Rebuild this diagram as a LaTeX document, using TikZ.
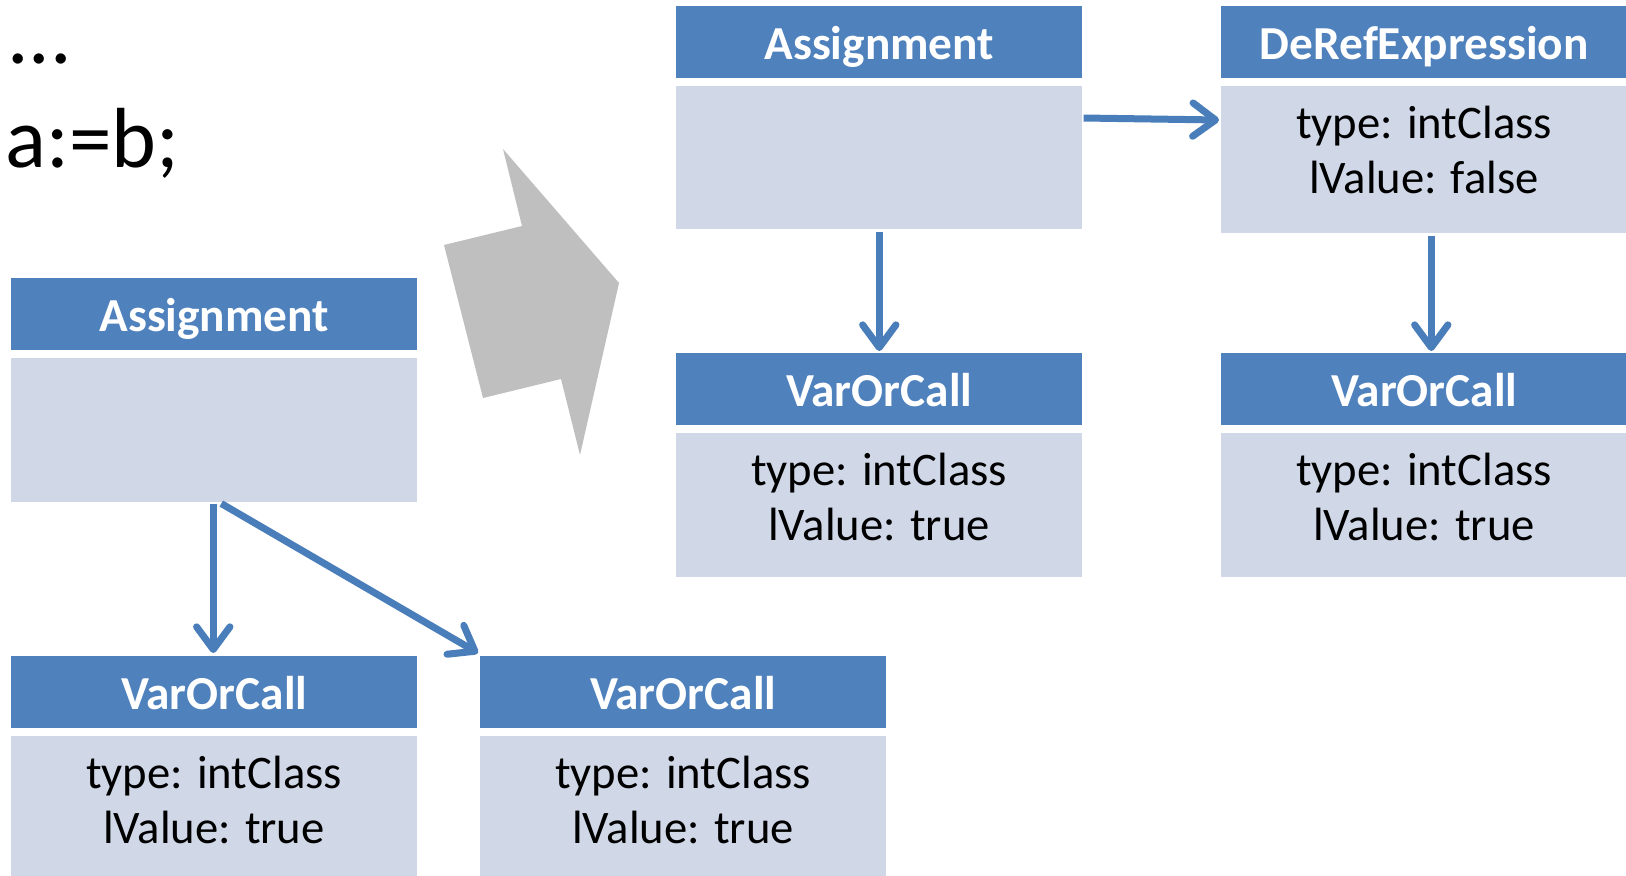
\documentclass[tikz,border=0pt]{standalone}
\usepackage{fontspec}
\setmainfont{Carlito}
\usetikzlibrary{arrows.meta}
\definecolor{hdrblue}{HTML}{4F81BD}
\definecolor{bodyblue}{HTML}{D0D8E8}
\definecolor{linkblue}{HTML}{4A7EBB}
\definecolor{shapegray}{HTML}{BFBFBF}
\begin{document}
\begin{tikzpicture}[x=0.75pt,y=-0.75pt,
  hdr/.style={fill=hdrblue, draw=none, anchor=north west, minimum width=304.5pt,
    minimum height=54pt, inner sep=0pt, text=white,
    font=\fontsize{35.5}{42}\selectfont\bfseries, text height=26pt, text depth=0pt},
  bodybox/.style={fill=bodyblue, draw=none, anchor=north west, minimum width=304.5pt,
    minimum height=108pt, inner sep=0pt},
  bodytext/.style={anchor=base, inner sep=0pt, font=\fontsize{35}{42}\selectfont},
  codetext/.style={anchor=base west, inner sep=0pt, font=\fontsize{64}{76}\selectfont},
  conn/.style={draw=linkblue, line width=5.25pt,
    -{Straight Barb[length=17pt,width=25pt,line cap=round,line join=round]}}
]
\clip (0,0) rectangle (1626,875);
\fill[white] (0,0) rectangle (1626,875);

% code text
\node[codetext] (dots) at (7,63) {...};
\node[codetext] (code) at (5,167) {a:=b;};

% gray transformation arrow
\fill[shapegray] (503,149) -- (619,283) -- (580,455) -- (561,379) -- (483,398)
  -- (444,245) -- (522,226) -- cycle;

% left tree
\node[hdr] (a1h) at (11,278) {Assignment};
\node[bodybox] (a1b) at (11,358) {};

\node[hdr] (v1h) at (11,656) {VarOrCall};
\node[bodybox, minimum height=112.5pt] (v1b) at (11,736) {};
\node[bodytext] (v1t1) at (214,788) {type: intClass};
\node[bodytext] (v1t2) at (214,843) {lValue: true};

\node[hdr] (v2h) at (480,656) {VarOrCall};
\node[bodybox, minimum height=112.5pt] (v2b) at (480,736) {};
\node[bodytext] (v2t1) at (683,788) {type: intClass};
\node[bodytext] (v2t2) at (683,843) {lValue: true};

% right tree
\node[hdr] (a2h) at (676,6) {Assignment};
\node[bodybox, minimum height=107.25pt] (a2b) at (676,86) {};

\node[hdr] (dh) at (1221,6) {DeRefExpression};
\node[bodybox, minimum height=110.25pt] (db) at (1221,86) {};
\node[bodytext] (dt1) at (1424,138) {type: intClass};
\node[bodytext] (dt2) at (1424,193) {lValue: false};

\node[hdr] (v3h) at (676,353) {VarOrCall};
\node[bodybox] (v3b) at (676,433) {};
\node[bodytext] (v3t1) at (879,485) {type: intClass};
\node[bodytext] (v3t2) at (879,540) {lValue: true};

\node[hdr] (v4h) at (1221,353) {VarOrCall};
\node[bodybox] (v4b) at (1221,433) {};
\node[bodytext] (v4t1) at (1424,485) {type: intClass};
\node[bodytext] (v4t2) at (1424,540) {lValue: true};

% connectors
\draw[conn] ([xshift=-0.75pt,yshift=-0.75pt]a1b.south) -- ([xshift=-0.75pt,yshift=2.25pt]v1h.north);
\draw[conn] ([xshift=5.25pt,yshift=-0.75pt]a1b.south) -- ([xshift=-1.5pt,yshift=2.25pt]v2h.north west);
\draw[conn] ([yshift=-1.5pt]a2b.south) -- ([yshift=1.5pt]v3h.north);
\draw[conn] ([xshift=0.75pt,yshift=-24pt]a2b.north east) -- ([xshift=-1.5pt,yshift=-25.5pt]db.north west);
\draw[conn] ([xshift=5.25pt,yshift=-1.5pt]db.south) -- ([xshift=5.25pt,yshift=1.5pt]v4h.north);
\end{tikzpicture}
\end{document}
